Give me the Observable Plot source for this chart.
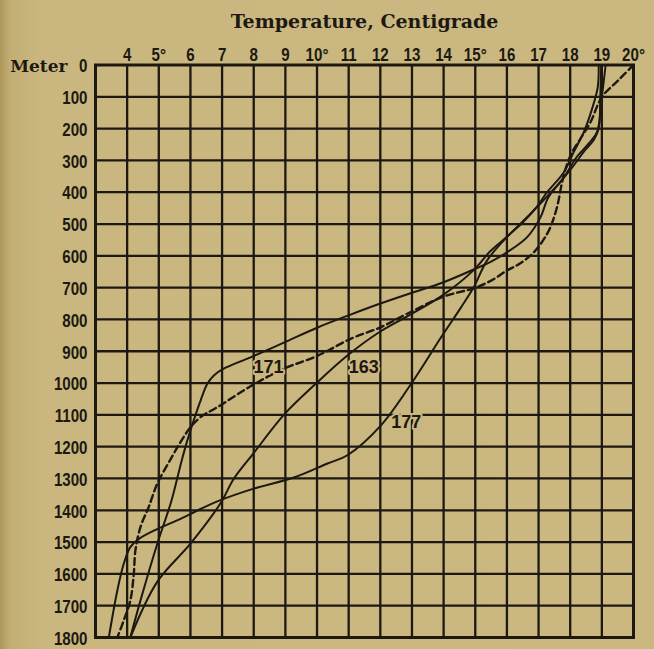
<!DOCTYPE html>
<html><head><meta charset="utf-8">
<script src="https://cdn.jsdelivr.net/npm/d3@7"></script>
<script src="https://cdn.jsdelivr.net/npm/@observablehq/plot@0.6"></script>
<style>
html,body{margin:0;padding:0;}
body{width:654px;height:649px;overflow:hidden;background:linear-gradient(to right,#ad975b 0px,#c2ae75 10px,#c9b77f 40px,#cab880 100%);}
svg{display:block;}
</style></head><body><div id="chart"></div>
<script>
const title = "Temperature, Centigrade";
const yAxisWord = "Meter";
const xTicks = [4,5,6,7,8,9,10,11,12,13,14,15,16,17,18,19,20];
const xTickLabels = ["4","5°","6","7","8","9","10°","11","12","13","14","15°","16","17","18","19","20°"];
const yTicks = [0,100,200,300,400,500,600,700,800,900,1000,1100,1200,1300,1400,1500,1600,1700,1800];

// Station 171 (dashed)
const temp171 = [20.0,19.5,19.0,18.64,18.32,18.06,17.85,17.72,17.6,17.45,17.27,16.85,16.4,16.0,15.5,14.95,14.0,12.85,12.0,11.06,10.0,8.95,7.9,6.85,6.32,6.0,5.69,5.37,4.95,4.68,4.42,4.26,4.21,4.1,3.89,3.69];
const depth171 = [0,50,101,180,232,274,327,380,440,490,531,589,625,646,678,702,728,782,825,861,915,955,1010,1076,1107,1139,1185,1240,1317,1390,1453,1527,1600,1684,1747,1800];

// unlabeled solid profile
const tempA = [18.98,18.95,18.9,18.75,18.45,18.11,17.69,17.3,17.06,16.64,16.0,15.5,14.95,14.0,13.0,12.0,11.0,10.0,8.95,7.9,7.05,6.74,6.53,6.32,6.1,5.9,5.72,5.4,4.95,4.42,4.1];
const depthA = [0,100,200,235,270,316,368,418,479,541,589,618,643,683,716,750,787,826,873,919,955,976,1003,1055,1118,1181,1245,1370,1506,1684,1800];

// Station 163
const temp163 = [18.9,18.87,18.69,18.43,18.11,17.8,17.27,16.95,16.5,16.0,15.48,14.95,14.0,12.95,12.0,10.95,9.95,8.95,8.0,7.37,6.95,6.0,4.95,4.1];
const depth163 = [0,70,138,211,274,337,400,445,492,540,585,645,722,785,838,914,1003,1100,1220,1301,1378,1505,1625,1800];

// Station 177
const temp177 = [19.12,19.0,18.85,18.6,18.2,17.8,17.3,16.95,16.5,16.0,15.37,14.95,14.55,13.92,12.97,12.02,10.96,10.33,9.27,8.0,6.85,6.32,5.58,4.95,4.37,4.1,3.89,3.69,3.42];
const depth177 = [0,100,210,245,290,353,410,447,495,541,615,699,762,856,1003,1133,1227,1253,1297,1332,1372,1396,1432,1459,1490,1516,1569,1652,1800];

const curveLabels = ["171","163","177"];
const labelTemps = [8.47,11.48,12.82];
const labelDepths = [951,950,1123];

const ink = "#1d1912";
const bg = "#c9b77f";
const sans = "'Liberation Sans',Arial,sans-serif";
const serif = "'DejaVu Serif',serif";

const toRows = (ts, ds) => ts.map((t, i) => ({t, d: ds[i]}));
const rows171 = toRows(temp171, depth171);
const rowsA = toRows(tempA, depthA);
const rows163 = toRows(temp163, depth163);
const rows177 = toRows(temp177, depth177);
const labelRows = curveLabels.map((s, i) => ({s, t: labelTemps[i], d: labelDepths[i]}));

const chart = Plot.plot({
  width: 654, height: 649,
  marginLeft: 95, marginRight: 21, marginTop: 64.5, marginBottom: 12,
  x: {domain: [3, 20]},
  y: {domain: [0, 1800], reverse: true},
  style: {background: "transparent", color: ink, fontFamily: sans, fontSize: "18px", fontWeight: "bold", overflow: "visible"},
  marks: [
    Plot.ruleX(xTicks.slice(0, -1), {stroke: ink, strokeWidth: 2.3}),
    Plot.ruleY(yTicks.slice(1, -1), {stroke: ink, strokeWidth: 2.3}),
    Plot.frame({stroke: ink, strokeWidth: 3}),
    Plot.line(rowsA, {x: "t", y: "d", stroke: ink, strokeWidth: 2, curve: "catmull-rom"}),
    Plot.line(rows163, {x: "t", y: "d", stroke: ink, strokeWidth: 2, curve: "catmull-rom"}),
    Plot.line(rows177, {x: "t", y: "d", stroke: ink, strokeWidth: 2, curve: "catmull-rom"}),
    Plot.line(rows171, {x: "t", y: "d", stroke: ink, strokeWidth: 2.4, strokeDasharray: "7,4", curve: "catmull-rom"}),
    Plot.text(labelRows, {x: "t", y: "d", text: "s", fill: ink, stroke: bg, strokeWidth: 4, paintOrder: "stroke", fontSize: 18, ariaLabel: "curve label"}),
    Plot.axisX({anchor: "top", ticks: xTicks, tickFormat: (d) => xTickLabels[xTicks.indexOf(d)], tickSize: 0, tickPadding: 4, fontSize: 18, label: null, fill: ink}),
    Plot.axisY({anchor: "left", ticks: yTicks, tickFormat: (d) => String(d), tickSize: 0, tickPadding: 8, dy: 1.5, fontSize: 18, label: null, fill: ink}),
    Plot.text([title], {frameAnchor: "top", lineAnchor: "middle", dy: -43, fontFamily: serif, fontSize: 19, fontWeight: "bold", fill: ink}),
    Plot.text([yAxisWord], {frameAnchor: "top-left", lineAnchor: "middle", dx: -28, dy: 2, textAnchor: "end", fontFamily: serif, fontSize: 17, fontWeight: "bold", fill: ink})
  ]
});
document.getElementById("chart").append(chart);

// condense the sans-serif numerals (the original uses a condensed face)
chart.querySelectorAll('g[aria-label="x-axis tick label"] text, g[aria-label="y-axis tick label"] text, g[aria-label="curve label"] text').forEach((el) => {
  let tr = el.getAttribute("transform");
  if (!tr) {
    const x = el.getAttribute("x") || 0, y = el.getAttribute("y") || 0;
    el.removeAttribute("x"); el.removeAttribute("y");
    tr = `translate(${x},${y})`;
  }
  el.setAttribute("transform", tr + " scale(0.84,1)");
});
</script>
</body></html>
